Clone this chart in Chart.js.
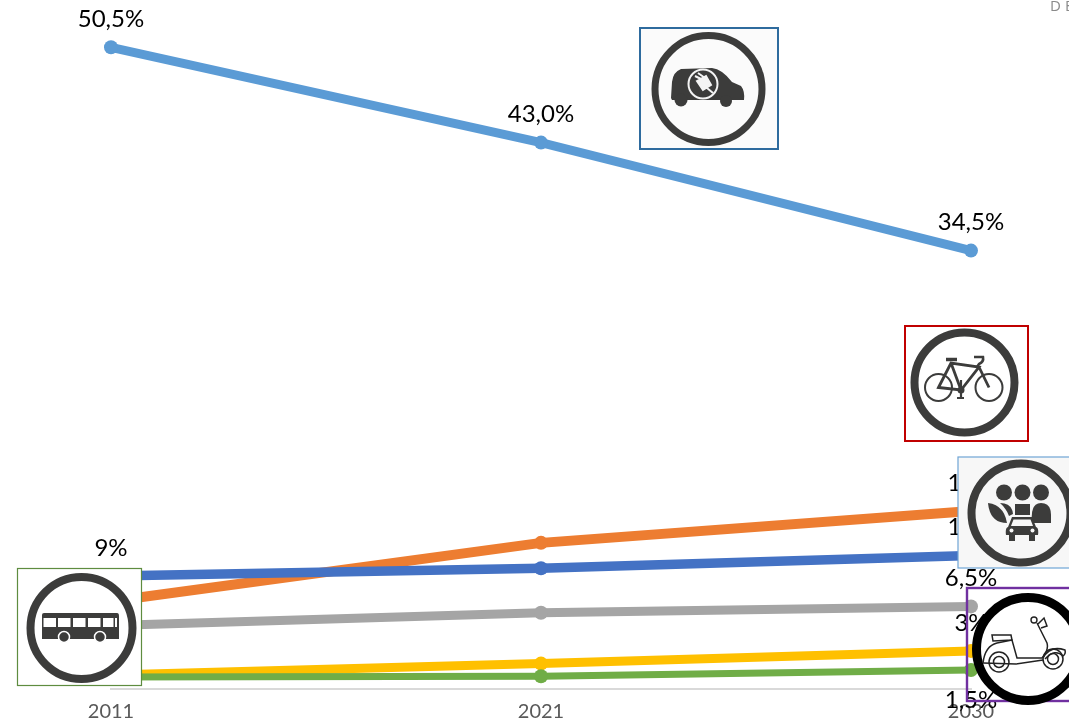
<!DOCTYPE html>
<html>
<head>
<meta charset="utf-8">
<title>Modal split</title>
<script src="https://cdn.jsdelivr.net/npm/chart.js@4"></script>
<style>
html, body { margin: 0; padding: 0; background: #fff; overflow: hidden; }
#wrap { position: relative; width: 1069px; height: 721px; overflow: hidden; }
#graphCanvas { position: absolute; left: 0; top: 0; }
#icons { position: absolute; left: 0; top: 0; }
#corner { position: absolute; left: 1050px; top: -5px; font: 15px "Open Sans", sans-serif; letter-spacing: 4px; color: #8a8a8a; white-space: nowrap; }
</style>
</head>
<body>
<div id="wrap">
<canvas id="graphCanvas" width="1069" height="721"></canvas>
<div id="corner">DE</div>
<svg id="icons" width="1069" height="721" viewBox="0 0 1069 721" xmlns="http://www.w3.org/2000/svg">
  <!-- electric car -->
  <rect x="640" y="28" width="138" height="121" fill="#fbfbfb" stroke="#2e6b9e" stroke-width="2"/>
  <circle cx="708.5" cy="89" r="53.5" fill="none" stroke="#3c3c3b" stroke-width="7"/>
  <path d="M671,98 L672,82 Q673,72 681,69 L712,68 Q722,69 732,82 L741,86 Q745,91 744,100 L672,100 Z" fill="#3c3c3b"/>
  <circle cx="681" cy="100" r="6.5" fill="#3c3c3b"/>
  <circle cx="726" cy="101" r="6" fill="#3c3c3b"/>
  <circle cx="703" cy="84" r="14.5" fill="#3c3c3b" stroke="#f4f4f4" stroke-width="2"/>
  <path d="M695,76 L703,80 M698,73 L705,78 M697,81 L706,76 L711,85 L703,90 Z M707,88 L713,93" fill="#f4f4f4" stroke="#f4f4f4" stroke-width="2"/>

  <!-- bike -->
  <rect x="905" y="326" width="123" height="115" fill="#fff" stroke="#c00000" stroke-width="2"/>
  <circle cx="964.5" cy="382.5" r="50" fill="none" stroke="#3c3c3b" stroke-width="8"/>
  <g fill="none" stroke="#3c3c3b">
    <circle cx="938.5" cy="387.5" r="13.5" stroke-width="2"/>
    <circle cx="989" cy="387.5" r="13.5" stroke-width="2"/>
    <path d="M938.5,387.5 L951,363 L979,367 L961,390 Z M951,363 L961,390 M979,367 L989,387.5" stroke-width="2.8"/>
    <path d="M946,359.5 L957,359.5" stroke-width="3.5"/>
    <path d="M974,357 L983,357 Q984,362 979,364 L977,367" stroke-width="2.6"/>
    <path d="M961,380 L961,398 M957,398 L964,398" stroke-width="2.2"/>
  </g>
  <circle cx="961" cy="390" r="3.5" fill="#3c3c3b"/>

  <!-- car sharing -->
  <rect x="958" y="457" width="120" height="111" fill="#f7f7f7" stroke="#6fa5d5" stroke-width="1.2"/>
  <circle cx="1021" cy="513" r="49.5" fill="none" stroke="#3c3c3b" stroke-width="8"/>
  <g fill="#3c3c3b">
    <circle cx="1004" cy="492.5" r="8"/>
    <circle cx="1022.5" cy="492.5" r="8"/>
    <circle cx="1041" cy="492.5" r="8"/>
    <path d="M1015,504 L1030,504 L1030,515 L1015,515 Z"/>
    <path d="M1032,523 Q1030,503 1041,503 Q1051,503 1051,515 L1051,523 Z"/>
    <path d="M988,503 Q1004,505 1007,523 Q990,523 988,503 Z"/>
    <path d="M1000,503 Q1012,503 1013,514 L1009,516 Q1006,508 1000,503 Z"/>
    <path d="M1012,517 L1032,517 L1036,527 Q1039,528 1038,535 L1035,535 L1035,541 L1029,541 L1029,535 L1015,535 L1015,541 L1009,541 L1009,535 L1006,535 Q1005,528 1008,527 Z"/>
  </g>
  <path d="M1013.5,519.5 L1030.5,519.5 L1033,526 L1011,526 Z" fill="#f7f7f7"/>
  <circle cx="1011.5" cy="530.5" r="2" fill="#f7f7f7"/>
  <circle cx="1032.5" cy="530.5" r="2" fill="#f7f7f7"/>

  <!-- scooter: box stays see-through, only the disc hides the chart -->
  <rect x="967" y="588" width="110" height="113" fill="none" stroke="#7030a0" stroke-width="2.4"/>
  <circle cx="1028" cy="649" r="51.5" fill="#fff" stroke="#000" stroke-width="9"/>
  <g fill="none" stroke="#222" stroke-width="1.5">
    <circle cx="999" cy="662" r="10"/>
    <circle cx="999" cy="662" r="5.5"/>
    <circle cx="1053" cy="659" r="10"/>
    <circle cx="1053" cy="659" r="5.5"/>
    <path d="M992,635 L1011,635 L1012,640 L993,641 Z"/>
    <path d="M983,663 Q985,646 997,643 L1012,640 L1017,658 L1042,658 Q1049,650 1047,643 L1037,623"/>
    <path d="M1043,658 Q1050,645 1065,650 Q1066,654 1063,656 Q1055,648 1045,659"/>
    <path d="M983,663 L1016,664 L1043,660"/>
    <path d="M1038,624 L1044,618 L1047,626 L1041,628"/>
  </g>
  <circle cx="1034" cy="620" r="3" fill="#fff" stroke="#222" stroke-width="1.4"/>

  <!-- bus -->
  <rect x="17.5" y="568.5" width="124" height="117" fill="#fff" stroke="#5e8c3f" stroke-width="1.2"/>
  <circle cx="81.5" cy="628" r="51" fill="none" stroke="#3c3c3b" stroke-width="8"/>
  <path d="M42,615 Q42,613 44,613 L117,613 Q119,613 119,616 L119,639 L42,639 Z" fill="#3c3c3b"/>
  <g fill="#fff">
    <rect x="43.5" y="618" width="12.5" height="9"/>
    <rect x="58" y="618" width="12.5" height="9"/>
    <rect x="73" y="618" width="12.5" height="9"/>
    <rect x="88" y="618" width="12.5" height="9"/>
    <rect x="103" y="618" width="10.5" height="9"/>
    <rect x="115" y="618" width="2" height="9"/>
  </g>
  <circle cx="64" cy="637" r="5.5" fill="#3c3c3b" stroke="#fff" stroke-width="1.5"/>
  <circle cx="100" cy="637" r="5.5" fill="#3c3c3b" stroke="#fff" stroke-width="1.5"/>
</svg>
</div>
<script>
const years = ["2011", "2021", "2030"];

const carValues = [50.5, 43.0, 34.5];
const orangeValues = [6.9, 11.5, 14];
const blueValues = [8.9, 9.5, 10.5];
const grayValues = [5, 6, 6.5];
const yellowValues = [1.1, 2, 3];
const greenValues = [0.95, 1, 1.5];

const carLabels = ["50,5%", "43,0%", "34,5%"];
const orangeLabels = [null, null, "14%"];
const blueLabels = ["9%", null, "11%"];
const grayLabels = [null, null, "6,5%"];
const yellowLabels = [null, null, "3%"];
const greenLabels = [null, null, "1,5%"];

const textFont = "Lato, sans-serif";

//Small plugin, Chart.js has no data labels of its own
const valueLabels = {
    id: "valueLabels",
    afterDatasetsDraw(chart) {
        const ctx = chart.ctx;
        ctx.save();
        ctx.font = "24px " + textFont;
        ctx.fillStyle = "#000";
        ctx.textAlign = "center";
        ctx.textBaseline = "middle";
        chart.data.datasets.forEach((ds, i) => {
            const points = chart.getDatasetMeta(i).data;
            ds.pointLabels.forEach((text, j) => {
                if (!text) return;
                const y = ds.labelBelow ? points[j].y + 30 : points[j].y - 28;
                ctx.fillText(text, points[j].x, y);
            });
        });
        ctx.restore();
    }
};

function makeSeries(values, pointLabels, color, width, order, labelBelow) {
    return {
        data: values,
        pointLabels,
        labelBelow: !!labelBelow,
        borderColor: color,
        backgroundColor: color,
        borderWidth: width,
        pointRadius: 7,
        pointHoverRadius: 7,
        pointBorderWidth: 0,
        tension: 0,
        order,
        clip: false
    };
}

new Chart(document.getElementById("graphCanvas").getContext("2d"), {
    type: "line",
    data: {
        labels: years,
        datasets: [
            makeSeries(carValues, carLabels, "#5b9bd5", 9, 6),
            makeSeries(orangeValues, orangeLabels, "#ed7d31", 10, 5),
            makeSeries(blueValues, blueLabels, "#4472c4", 9.5, 4),
            makeSeries(grayValues, grayLabels, "#a5a5a5", 9, 3),
            makeSeries(yellowValues, yellowLabels, "#ffc000", 9, 2),
            makeSeries(greenValues, greenLabels, "#70ad47", 7, 1, true)
        ]
    },
    options: {
        responsive: false,
        animation: false,
        layout: { padding: { left: 111, right: 98, top: 3, bottom: 0 } },
        plugins: { legend: { display: false }, tooltip: { enabled: false } },
        scales: {
            x: {
                offset: false,
                afterFit(scale) { scale.height = 32; },
                grid: { display: false, drawTicks: false },
                border: { color: "#d9d9d9", width: 2 },
                ticks: { color: "#595959", font: { family: textFont, size: 20 }, padding: 11, maxRotation: 0, autoSkip: false, align: "center" }
            },
            y: {
                display: false,
                min: 0,
                max: 53.67
            }
        }
    },
    plugins: [valueLabels]
});
</script>
</body>
</html>
